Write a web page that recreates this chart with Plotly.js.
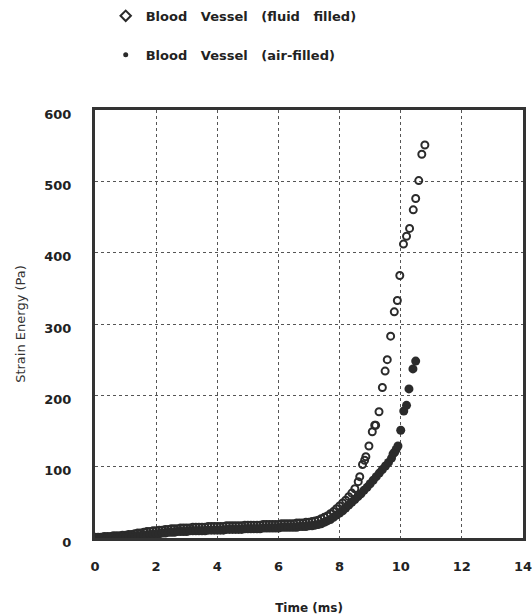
<!DOCTYPE html>
<html>
<head>
<meta charset="utf-8">
<script src="https://cdn.plot.ly/plotly-3.0.1.min.js"></script>
<style>html,body{margin:0;padding:0;background:#fff;}#chart{width:532px;height:615px;}</style>
</head>
<body>
<div id="chart"></div>
<script>
// Fluid-filled blood vessel (open markers)
var fluidTime = [0,0.1,0.2,0.3,0.4,0.5,0.6,0.7,0.8,0.9,1.0,1.1,1.2,1.3,1.4,1.5,1.6,1.7,1.8,1.9,2.0,2.1,2.2,2.3,2.4,2.5,2.6,2.7,2.8,2.9,3.0,3.1,3.2,3.3,3.4,3.5,3.6,3.7,3.8,3.9,4.0,4.1,4.2,4.3,4.4,4.5,4.6,4.7,4.8,4.9,5.0,5.1,5.2,5.3,5.4,5.5,5.6,5.7,5.8,5.9,6.0,6.1,6.2,6.3,6.4,6.5,6.6,6.7,6.8,6.9,7.0,7.1,7.2,7.3,7.4,7.5,7.6,7.7,7.8,7.9,8.0,8.1,8.2,8.3,8.4,8.5,8.61,8.66,8.75,8.82,8.86,8.96,9.07,9.15,9.18,9.29,9.40,9.49,9.56,9.67,9.79,9.89,9.97,10.09,10.19,10.29,10.41,10.49,10.59,10.69,10.79];
var fluidEnergy = [1,1,1,2,2,2,3,3,3,4,4,5,5,6,7,7,8,9,9,10,10,11,11,12,12,13,13,13,14,14,14,14,15,15,15,15,15,16,16,16,16,16,16,17,17,17,17,17,17,18,18,18,18,18,18,19,19,19,19,19,19,20,20,20,20,20,21,21,21,22,22,23,24,25,27,29,31,34,37,41,45,49,53,58,63,69,79,86,103,109,114,129,149,158,158,177,211,234,250,283,317,333,368,412,423,434,460,476,501,538,551];
// Air-filled blood vessel (filled markers)
var airTime = [0,0.1,0.2,0.3,0.4,0.5,0.6,0.7,0.8,0.9,1.0,1.1,1.2,1.3,1.4,1.5,1.6,1.7,1.8,1.9,2.0,2.1,2.2,2.3,2.4,2.5,2.6,2.7,2.8,2.9,3.0,3.1,3.2,3.3,3.4,3.5,3.6,3.7,3.8,3.9,4.0,4.1,4.2,4.3,4.4,4.5,4.6,4.7,4.8,4.9,5.0,5.1,5.2,5.3,5.4,5.5,5.6,5.7,5.8,5.9,6.0,6.1,6.2,6.3,6.4,6.5,6.6,6.7,6.8,6.9,7.0,7.1,7.2,7.3,7.4,7.5,7.6,7.7,7.8,7.9,8.0,8.1,8.2,8.3,8.4,8.5,8.6,8.7,8.8,8.9,9.0,9.1,9.2,9.3,9.4,9.5,9.6,9.7,9.75,9.8,9.85,9.91,10.0,10.10,10.19,10.27,10.40,10.49];
var airEnergy = [0,0,0,0,0,1,1,1,1,1,1,2,2,2,3,3,4,4,5,5,6,6,7,7,8,8,8,9,9,9,9,10,10,10,10,10,10,11,11,11,11,11,11,12,12,12,12,12,12,13,13,13,13,13,13,14,14,14,14,14,14,15,15,15,15,15,15,16,16,16,17,17,18,19,20,22,24,26,29,32,35,38,42,46,50,54,58,62,67,71,76,81,86,91,96,101,106,112,118,120,124,129,151,178,186,209,237,248];

var xTicks = [0,2,4,6,8,10,12,14];
var yTicks = [0,100,200,300,400,500,600];

var ink = '#2b2b2b';
var gap = '\u00a0\u00a0 ';
var traces = [
  {x: fluidTime, y: fluidEnergy, type: 'scatter', mode: 'markers', showlegend: false,
   marker: {symbol: 'circle-open', size: 7, color: ink, line: {width: 2, color: ink}}},
  {x: airTime, y: airEnergy, type: 'scatter', mode: 'markers', showlegend: false,
   marker: {symbol: 'circle', size: 9, color: ink}},
  {x: [null], y: [null], type: 'scatter', mode: 'markers', name: 'Blood' + gap + 'Vessel' + gap + '(fluid' + gap + 'filled)',
   legendgroup: 'a', marker: {symbol: 'diamond-open', size: 8, color: ink, line: {width: 2, color: ink}}},
  {x: [null], y: [null], type: 'scatter', mode: 'markers', name: 'Blood' + gap + 'Vessel' + gap + '(air-filled)',
   legendgroup: 'b', marker: {symbol: 'circle', size: 5, color: ink}}
];

var layout = {
  width: 532, height: 615,
  paper_bgcolor: '#fff', plot_bgcolor: '#fff',
  margin: {l: 95, r: 9, t: 110, b: 77, autoexpand: false},
  showlegend: true,
  legend: {x: 0.025, xanchor: 'left', y: 1.255, yanchor: 'top', tracegroupgap: 19,
    font: {family: 'DejaVu Sans', size: 13, color: '#222', weight: 'bold'}, bgcolor: 'rgba(0,0,0,0)'},
  xaxis: {
    range: [0, 14], tickvals: xTicks, ticktext: xTicks.map(String),
    showline: true, mirror: true, linewidth: 3, linecolor: '#333',
    showgrid: true, gridcolor: '#555', griddash: 'dot', gridwidth: 1,
    zeroline: false, ticks: '', ticklabelstandoff: 14, ticklabeloverflow: 'allow',
    tickfont: {family: 'DejaVu Sans', size: 13, color: '#222', weight: 'bold'},
    title: {text: 'Time (ms)', standoff: 32, font: {family: 'DejaVu Sans', size: 12, color: '#222', weight: 'bold'}}
  },
  yaxis: {
    range: [0, 600], tickvals: yTicks, ticktext: yTicks.map(String),
    showline: true, mirror: true, linewidth: 3, linecolor: '#333',
    showgrid: true, gridcolor: '#555', griddash: 'dot', gridwidth: 1,
    zeroline: false, ticks: '', ticklabelstandoff: 18, ticklabelshift: 4,
    tickfont: {family: 'DejaVu Sans', size: 13, color: '#222', weight: 'bold'},
    title: {text: 'Strain Energy (Pa)', standoff: 16, font: {family: 'DejaVu Sans', size: 13, color: '#333'}}
  }
};

Plotly.newPlot('chart', traces, layout, {displayModeBar: false, staticPlot: true});
</script>
</body>
</html>
